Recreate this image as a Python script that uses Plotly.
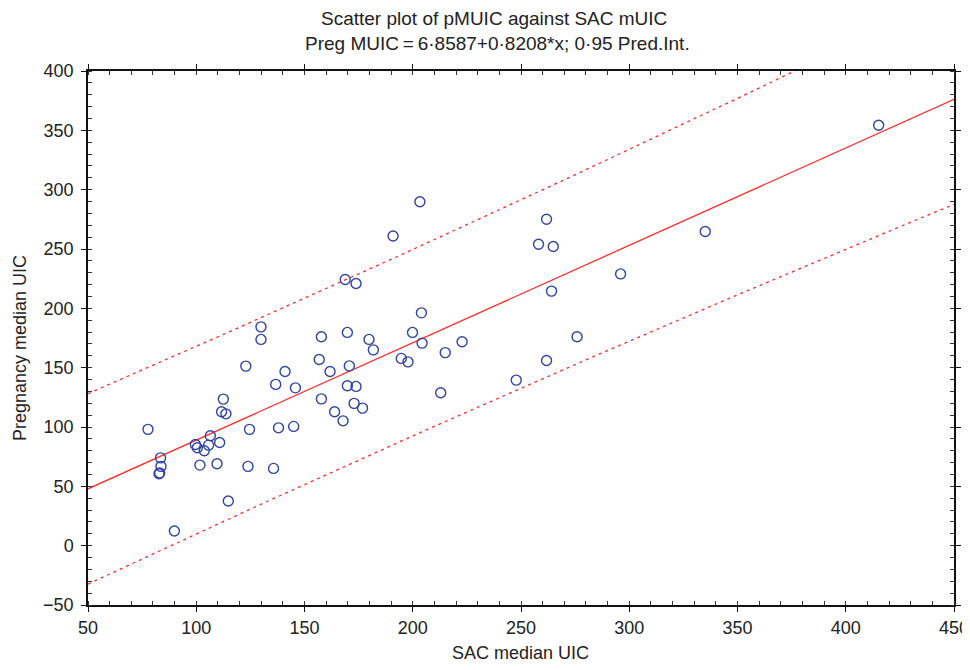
import numpy as np
import plotly.graph_objects as go

# SAC median UIC (x) and Pregnancy median UIC (y)
sac_uic = [77.7, 89.9, 83.5, 83.7, 82.8, 83.1, 99.6, 100.5, 103.7, 106.5,
           105.7, 101.7, 109.6, 110.8, 111.7, 112.5, 113.7, 114.8, 122.9, 123.9,
           124.6, 129.9, 129.9, 135.7, 136.7, 138.0, 141.0, 145.0, 145.8, 157.8,
           156.8, 157.8, 161.8, 163.9, 167.8, 168.8, 173.8, 169.8, 170.7, 169.8,
           173.8, 172.9, 176.8, 179.8, 181.8, 190.9, 194.7, 197.8, 199.9, 203.3,
           204.0, 204.3, 212.9, 215.0, 222.8, 247.8, 258.1, 261.8, 264.9, 264.1,
           261.8, 275.9, 296.0, 335.1, 415.2]
preg_uic = [98.0, 12.3, 74.0, 66.8, 60.6, 61.2, 85.3, 82.5, 80.0, 92.6,
            84.7, 67.9, 69.0, 87.0, 112.8, 123.5, 111.1, 37.6, 151.3, 66.8,
            98.0, 184.4, 173.8, 65.1, 135.9, 99.3, 146.8, 100.5, 133.0, 176.0,
            156.9, 123.7, 146.8, 112.8, 105.2, 224.3, 220.9, 179.7, 151.5, 134.7,
            134.2, 119.9, 115.9, 173.8, 165.0, 261.0, 157.8, 154.9, 179.7, 289.8,
            196.2, 170.7, 128.8, 162.7, 171.9, 139.5, 254.0, 275.1, 252.1, 214.5,
            156.1, 176.0, 229.0, 264.7, 354.3]

INTERCEPT = 6.8587
SLOPE = 0.8208
T_975 = 1.9983  # t quantile, df = n - 2 = 63

x_tick_vals = [50, 100, 150, 200, 250, 300, 350, 400, 450]
y_tick_vals = [-50, 0, 50, 100, 150, 200, 250, 300, 350, 400]

title_line1 = "Scatter plot of pMUIC against SAC mUIC"
title_line2 = "Preg MUIC\u2009=\u20096\u00b78587+0\u00b78208*x; 0\u00b795 Pred.Int."
x_title = "SAC median UIC"
y_title = "Pregnancy median UIC"

x = np.array(sac_uic)
y = np.array(preg_uic)
n = len(x)
resid = y - (INTERCEPT + SLOPE * x)
s = np.sqrt(np.sum(resid ** 2) / (n - 2))
xm = x.mean()
sxx = np.sum((x - xm) ** 2)

xl = np.linspace(50, 450, 201)
yl = INTERCEPT + SLOPE * xl
half = T_975 * s * np.sqrt(1 + 1 / n + (xl - xm) ** 2 / sxx)

RED = "#ff2a2a"
BLUE = "#2e43a3"
FONT = "Liberation Sans, Arial, sans-serif"
TXT = "#222"

fig = go.Figure()
fig.add_trace(go.Scatter(x=xl, y=yl + half, mode="lines",
                         line=dict(color=RED, width=1.3, dash="3px,4px"), hoverinfo="skip"))
fig.add_trace(go.Scatter(x=xl, y=yl - half, mode="lines",
                         line=dict(color=RED, width=1.3, dash="3px,4px"), hoverinfo="skip"))
fig.add_trace(go.Scatter(x=xl, y=yl, mode="lines",
                         line=dict(color=RED, width=1.3), hoverinfo="skip"))
fig.add_trace(go.Scatter(x=sac_uic, y=preg_uic, mode="markers",
                         marker=dict(symbol="circle-open", size=10, color=BLUE,
                                     line=dict(color=BLUE, width=1.4))))

axis_common = dict(
    showgrid=False, zeroline=False, showline=True, linecolor="#111", linewidth=1.5,
    mirror="allticks", ticks="outside", ticklen=5, tickwidth=1, tickcolor="#111",
    tickfont=dict(family=FONT, size=18, color=TXT), automargin=False,
    ticklabeloverflow="allow",
    minor=dict(dtick=10, ticks="inside", ticklen=4, tickcolor="#333", tickwidth=1),
)

# The page body adds an 8px margin; the figure is sized/placed to compensate
# and kept short enough that the page does not scroll vertically.
OFF = 8
W, H = 990, 670 - 2 * OFF
# plot area in screen pixels: left 88, right 954, top 71, bottom 605
L, R, T, B = 88 - OFF, W - (954 - OFF), 71 - OFF, H - (605 - OFF)
PW, PH = W - L - R, H - T - B


def px_x(px):
    return (px - OFF - L) / PW


def px_y(py):
    return (H - B - (py - OFF)) / PH


annotations = [
    dict(text=title_line1, x=px_x(494), y=px_y(18), size=19),
    dict(text=title_line2, x=px_x(497), y=px_y(44), size=19),
    dict(text=x_title, x=px_x(520), y=px_y(653), size=18),
    dict(text=y_title, x=px_x(20), y=px_y(348), size=18, textangle=-90),
]
for a in annotations:
    sz = a.pop("size")
    a.update(xref="paper", yref="paper", showarrow=False, xanchor="center", yanchor="middle",
             font=dict(family=FONT, size=sz, color=TXT))

fig.update_layout(
    width=W, height=H,
    margin=dict(l=L, r=R, t=T, b=B),
    paper_bgcolor="white", plot_bgcolor="white",
    showlegend=False,
    font=dict(family=FONT, color=TXT),
    annotations=annotations,
    xaxis=dict(range=[50, 450], tickvals=x_tick_vals, ticklabelstandoff=1, **axis_common),
    yaxis=dict(range=[-50, 400], tickvals=y_tick_vals, ticklabelstandoff=4, **axis_common),
)

fig.write_html("out.html")
